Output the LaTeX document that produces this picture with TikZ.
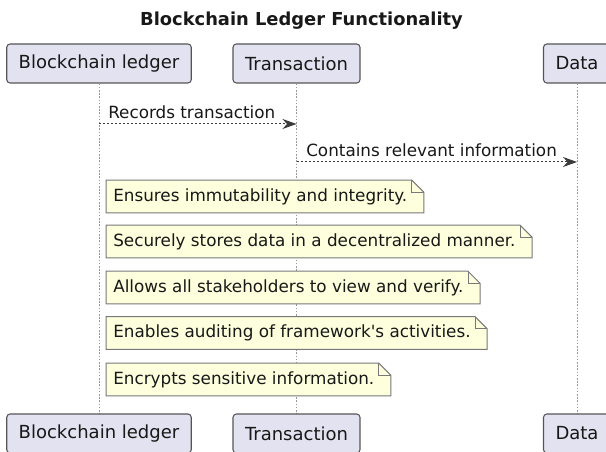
\documentclass[tikz,border=0pt]{standalone}
\usepackage{fontspec}
\setmainfont{DejaVu Sans}
\usetikzlibrary{arrows.meta,positioning,backgrounds}
\definecolor{lane}{RGB}{226,226,240}
\definecolor{laneline}{RGB}{85,85,85}
\definecolor{memo}{RGB}{254,255,221}
\definecolor{memoline}{RGB}{120,120,120}
\definecolor{ink}{RGB}{24,24,24}
\tikzset{
  >={Stealth[length=10.5pt,width=7.5pt]},
  actor/.style={draw=laneline,fill=lane,rounded corners=2.5pt,line width=0.8pt,
    minimum height=29.25pt,inner xsep=9pt,text=ink,
    font=\fontsize{13.5}{16}\selectfont},
  life/.style={draw=gray!80,line width=0.6pt,dash pattern=on 1.2pt off 1.2pt},
  msg/.style={->,draw=ink!85,line width=0.75pt,dash pattern=on 1.5pt off 1.5pt},
  msg label/.style={anchor=base west,inner sep=0pt,text=ink,
    font=\fontsize{12.6}{15}\selectfont},
  memo/.style={anchor=west,inner xsep=5.25pt,minimum height=24pt,text=ink,
    font=\fontsize{12.6}{15}\selectfont},
  memo box/.style={draw=memoline,fill=memo,line width=0.75pt},
  memo fold/.style={draw=memoline,line width=0.75pt},
}
\begin{document}
\begin{tikzpicture}[x=0.75pt,y=-0.75pt]
  \useasboundingbox (0,0) rectangle (606,452);
  \node[anchor=base,text=ink,font=\fontsize{13.4}{16}\selectfont\bfseries] (title)
    at (301.5,26) {Blockchain Ledger Functionality};

  % participants, head and foot
  \node[actor] (ledger) at (99,63.5) {Blockchain ledger};
  \node[actor] (tx) at (296.5,63.5) {Transaction};
  \node[actor] (data) at (577,63.5) {Data};
  \node[actor] (ledgerB) at (99,433.5) {Blockchain ledger};
  \node[actor] (txB) at (296.5,433.5) {Transaction};
  \node[actor] (dataB) at (577,433.5) {Data};

  % messages
  \coordinate (recS) at (ledger.south |- 0,124);
  \coordinate (recE) at (tx.south |- 0,124);
  \coordinate (infS) at (tx.south |- 0,162);
  \coordinate (infE) at (data.south |- 0,162);
  \draw[msg] (recS) -- (recE);
  \draw[msg] (infS) -- (infE);
  \node[msg label] (recL) at (108,118.5) {Records transaction};
  \node[msg label] (infL) at (306,156.5) {Contains relevant information};

  % notes over the ledger
  \node[memo] (n1) at (106,196.5) {Ensures immutability and integrity.};
  \node[memo] (n2) at (106,241.5) {Securely stores data in a decentralized manner.};
  \node[memo] (n3) at (106,287.5) {Allows all stakeholders to view and verify.};
  \node[memo] (n4) at (106,333) {Enables auditing of framework\textquotesingle s activities.};
  \node[memo] (n5) at (106,379.5) {Encrypts sensitive information.};

  \begin{scope}[on background layer]
    \draw[life] (ledger.south) -- (ledgerB.north);
    \draw[life] (tx.south) -- (txB.north);
    \draw[life] (data.south) -- (dataB.north);
    \foreach \k in {1,...,5}{
      \draw[memo box] (n\k.south west) -- (n\k.north west)
        -- ([xshift=-2pt]n\k.north east) -- ([xshift=7pt,yshift=-9pt]n\k.north east)
        -- ([xshift=7pt]n\k.south east) -- cycle;
      \draw[memo fold] ([xshift=-2pt]n\k.north east) -- ([xshift=-2pt,yshift=-9pt]n\k.north east)
        -- ([xshift=7pt,yshift=-9pt]n\k.north east);
    }
  \end{scope}
\end{tikzpicture}
\end{document}
